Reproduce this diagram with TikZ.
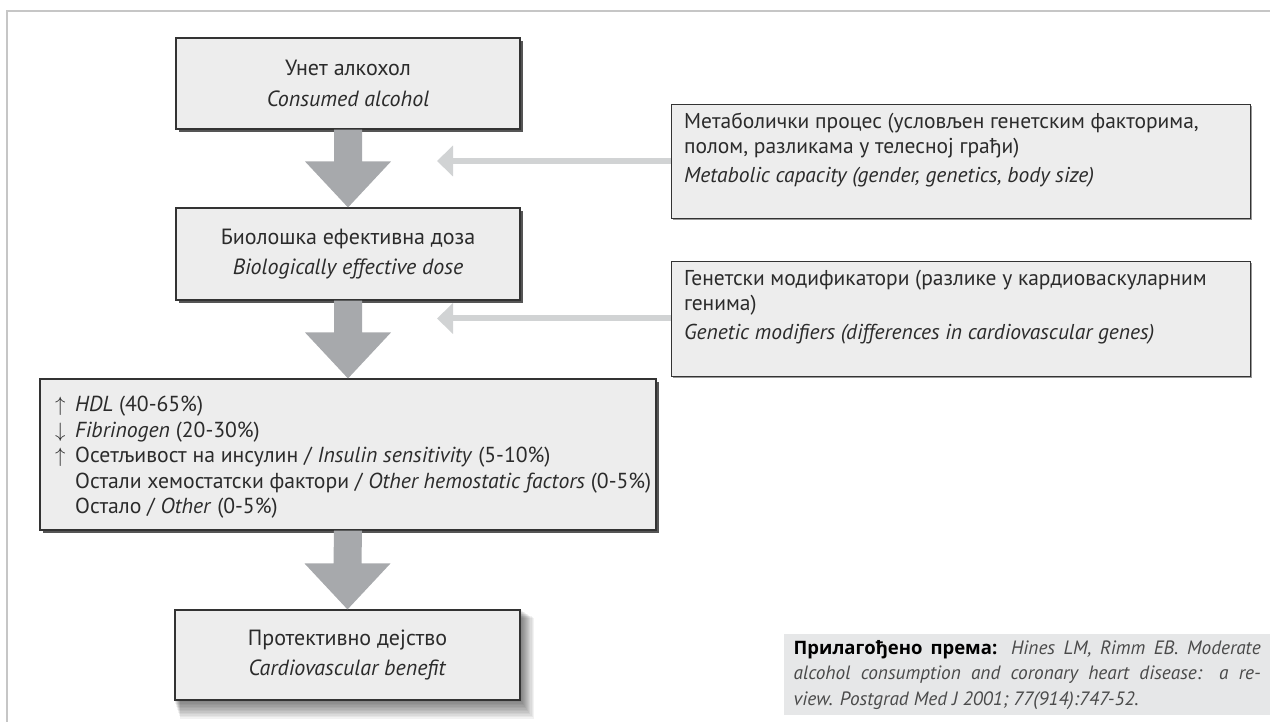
\documentclass[tikz,border=0pt]{standalone}
\usepackage{fontspec}
\setmainfont{PT Sans}
\newfontfamily\citebold{Open Sans}
\usetikzlibrary{calc,shadows,backgrounds,arrows.meta}
\definecolor{boxfill}{HTML}{EDEDED}
\definecolor{boxline}{HTML}{333333}
\definecolor{shadowc}{HTML}{555555}
\definecolor{arrowc}{HTML}{A7A9AC}
\definecolor{sidearrow}{HTML}{D1D3D4}
\definecolor{framec}{HTML}{C6C6C6}
\definecolor{citefill}{HTML}{E6E7E8}
\definecolor{txt}{HTML}{2B2B2B}
\definecolor{citetxt}{HTML}{4A4A4A}
\tikzset{
  mainbox/.style={draw=boxline, line width=1.1pt, fill=boxfill, inner sep=0pt,
    text=txt, font=\fontsize{22}{30.5}\selectfont, align=center,
    drop shadow={shadow xshift=3pt, shadow yshift=-3pt, fill=shadowc, opacity=1}},
  sidebox/.style={draw=boxline, line width=0.9pt, fill=boxfill, inner sep=0pt,
    minimum width=579pt, minimum height=114pt,
    drop shadow={shadow xshift=2pt, shadow yshift=-2pt, fill=gray, opacity=0.8}},
  sidetext/.style={anchor=north west, inner sep=0pt, text=txt, align=left,
    font=\fontsize{21.5}{25}\selectfont},
  bigarrow/.style={fill=arrowc},
  sidearr/.style={draw=sidearrow, line width=6pt, -{Triangle[length=16pt,width=30pt]}},
  citebox/.style={fill=citefill, inner sep=0pt, minimum width=486pt, minimum height=81pt,
    text width=467pt, align=justify, text=citetxt, font=\fontsize{19.3}{25.5}\selectfont},
}
\newcommand{\bigdown}[2]{%
  \fill[bigarrow] ($(#1.south)+(-14,0)$) -- ($(#2.north)+(-14,-46)$) -- ($(#2.north)+(-43,-46)$)
    -- (#2.north) -- ($(#2.north)+(43,-46)$) -- ($(#2.north)+(14,-46)$) -- ($(#1.south)+(14,0)$) -- cycle;}
\begin{document}
\begin{tikzpicture}[x=1pt,y=-1pt]
\useasboundingbox (0,0) rectangle (1270,722);
\draw[framec, line width=2pt] (1270,11) -- (7,11) -- (7,722);

% main column
\node[mainbox, minimum width=344pt, minimum height=91pt] (b1) at (348,83.5)
  {Унет алкохол\\\textit{Consumed alcohol}};
\node[mainbox, minimum width=344pt, minimum height=92pt] (b2) at (348,254)
  {Биолошка ефективна доза\\\textit{Biologically effective dose}};
\node[mainbox, minimum width=616pt, minimum height=151pt] (b3) at (348,454.5) {};
\node[anchor=north west, inner sep=0pt, text=txt, align=left,
  font=\fontsize{21.7}{25.5}\selectfont] (b3t) at (55,396)
  {\makebox[20pt][l]{$\uparrow$}\textit{HDL} (40-65\%)\\
   \makebox[20pt][l]{$\downarrow$}\textit{Fibrinogen} (20-30\%)\\
   \makebox[20pt][l]{$\uparrow$}Осетљивост на инсулин / \textit{Insulin sensitivity} (5-10\%)\\
   \makebox[20pt][l]{}Остали хемостатски фактори / \textit{Other hemostatic factors} (0-5\%)\\
   \makebox[20pt][l]{}Остало / \textit{Other} (0-5\%)};
\node[draw=boxline, line width=1.1pt, fill=boxfill, inner sep=0pt, text=txt,
  font=\fontsize{22}{30.5}\selectfont, align=center,
  minimum width=345pt, minimum height=90pt] (b4) at (347.5,655)
  {Протективно дејство\\\textit{Cardiovascular benefit}};
\begin{scope}[on background layer]
  \foreach \k in {1,...,12}{
    \fill[black, opacity=0.05] ($(b4.north west)+(0.5*\k,0.7*\k)$) rectangle ($(b4.south east)+(1.1*\k,1.5*\k)$);
  }
\end{scope}

\bigdown{b1}{b2}
\bigdown{b2}{b3}
\bigdown{b3}{b4}

% side boxes
\node[sidebox] (r1) at (960.5,161) {};
\node[sidetext] (r1t) at (684,113)
  {Метаболички процес (условљен генетским факторима,\\
   полом, разликама у телесној грађи)\\[4pt]
   \textit{Metabolic capacity (gender, genetics, body size)}};
\node[sidebox, minimum height=115pt] (r2) at (960.5,318.5) {};
\node[sidetext] (r2t) at (684,270)
  {Генетски модификатори (разлике у кардиоваскуларним\\
   генима)\\[4pt]
   \textit{Genetic modifiers (differences in cardiovascular genes)}};

\coordinate (s1) at (437,161);
\coordinate (s2) at (437,318.5);
\draw[sidearr] (r1.west) -- (s1);
\draw[sidearr] (r2.west) -- (s2);

% citation
\node[citebox, anchor=north west] (cite) at (784,634)
  {\textcolor{black}{\citebold\bfseries\fontsize{18.5}{25.5}\selectfont Прилагођено према:} \textit{Hines LM, Rimm EB. Moderate\linebreak
   alcohol consumption and coronary heart disease: a re-\linebreak
   view. Postgrad Med J 2001; 77(914):747-52.}};
\end{tikzpicture}
\end{document}
